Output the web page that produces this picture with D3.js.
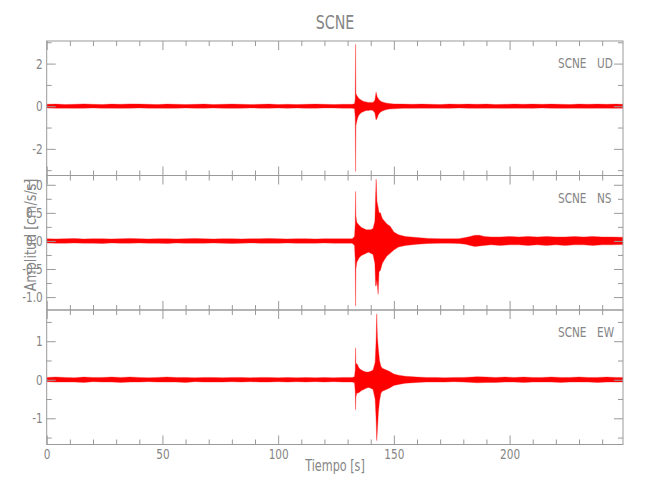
<!DOCTYPE html>
<html><head><meta charset="utf-8">
<script src="https://cdn.jsdelivr.net/npm/d3@7"></script>
<style>
body{margin:0;background:#fff}
svg{display:block}
text{font-family:"DejaVu Sans","Liberation Sans",sans-serif;fill:#858585}
</style>
</head><body>
<svg id="c" width="650" height="500"></svg>
<script>
// ---------- DATA ----------
const stationName = "SCNE";
const channels = ["UD", "NS", "EW"];
const timeDomain = [0, 249];
const timeMajorTicks = [0, 50, 100, 150, 200];
const timeMinorTicks = [10,20,30,40,60,70,80,90,110,120,130,140,160,170,180,190,210,220,230,240];

const udDomain = [-3.25, 3.06];
const udMajorTicks = [-2, 0, 2];
const udMinorTicks = [-3, -1, 1, 3];
const nsDomain = [-1.23, 1.165];
const nsMajorTicks = [-1.0, -0.5, 0.0, 0.5, 1.0];
const nsMinorTicks = [-0.75, -0.25, 0.25, 0.75];
const ewDomain = [-1.68, 1.81];
const ewMajorTicks = [-1, 0, 1];
const ewMinorTicks = [-1.5, -0.5, 0.5, 1.5];

// envelope of each trace: [time s, max, min]
const udEnvelope = [
[0,.09,-.08],[4,.10,-.09],[8,.08,-.09],[12,.09,-.10],[16,.11,-.09],[20,.09,-.08],[24,.08,-.09],[28,.10,-.09],[32,.09,-.10],[36,.11,-.09],[40,.10,-.08],[44,.09,-.09],[48,.08,-.09],[52,.10,-.10],[56,.09,-.09],[60,.08,-.08],[64,.09,-.09],[68,.10,-.09],[72,.08,-.08],[76,.09,-.09],[80,.10,-.10],[84,.09,-.09],[88,.08,-.08],[92,.09,-.09],[96,.10,-.09],[100,.08,-.08],[104,.09,-.09],[108,.08,-.08],[112,.09,-.09],[116,.10,-.09],[120,.09,-.08],[124,.08,-.08],[128,.09,-.09],[132,.09,-.09],
[133.0,.12,-.12],[133.3,.35,-.5],[133.45,2.9,-3.06],[133.6,.6,-.9],[134.0,.5,-.7],[134.5,.42,-.5],[135,.35,-.4],[136,.28,-.3],[137,.22,-.25],[138,.2,-.2],[139,.18,-.2],[140,.18,-.18],[141,.18,-.2],[141.8,.28,-.32],[142.3,.66,-.65],[142.8,.45,-.55],[143.3,.35,-.4],[144,.26,-.3],[145,.2,-.22],[146.5,.15,-.16],[148,.13,-.13],[150,.11,-.12],[154,.1,-.1],
[158,.09,-.10],[162,.10,-.09],[166,.09,-.09],[170,.08,-.09],[174,.10,-.10],[178,.09,-.08],[182,.10,-.09],[186,.09,-.10],[190,.10,-.09],[194,.08,-.09],[198,.09,-.10],[202,.10,-.09],[206,.09,-.09],[210,.10,-.10],[214,.09,-.08],[218,.10,-.09],[222,.09,-.10],[226,.08,-.09],[230,.10,-.09],[234,.09,-.10],[238,.10,-.09],[242,.09,-.09],[246,.10,-.10],[249,.09,-.09]
];
const nsEnvelope = [
[0,.04,-.035],[4,.035,-.04],[8,.04,-.04],[12,.045,-.035],[16,.035,-.04],[20,.04,-.04],[24,.04,-.045],[28,.035,-.035],[32,.04,-.04],[36,.045,-.04],[40,.04,-.035],[44,.035,-.04],[48,.04,-.04],[52,.04,-.045],[56,.035,-.035],[60,.04,-.04],[64,.045,-.04],[68,.04,-.04],[72,.035,-.035],[76,.04,-.04],[80,.04,-.045],[84,.035,-.04],[88,.04,-.035],[92,.04,-.04],[96,.045,-.04],[100,.04,-.04],[104,.035,-.035],[108,.04,-.04],[112,.04,-.04],[116,.035,-.04],[120,.04,-.035],[124,.04,-.04],[128,.04,-.04],[132,.04,-.04],
[133.0,.08,-.08],[133.3,.3,-.35],[133.45,.88,-1.16],[133.6,.45,-.5],[134,.33,-.38],[135,.28,-.3],[136,.24,-.26],[137,.22,-.24],[138,.2,-.22],[139,.2,-.2],[140,.2,-.22],[141,.22,-.24],[141.8,.35,-.4],[142.1,.8,-.8],[142.35,1.1,-.8],[142.7,.7,-.7],[143.2,.6,-.95],[143.6,.5,-.55],[144.2,.5,-.52],[145,.4,-.4],[146,.35,-.33],[147,.3,-.27],[148.4,.26,-.22],[150,.16,-.16],[152,.11,-.11],[155,.08,-.08],[160,.06,-.06],[165,.045,-.045],
[170,.04,-.04],[174,.04,-.04],[178,.04,-.045],[181,.06,-.06],[183,.08,-.08],[185,.1,-.1],[187,.1,-.09],[189,.08,-.08],[192,.07,-.07],[196,.07,-.08],[200,.08,-.07],[204,.07,-.07],[208,.08,-.08],[212,.07,-.07],[216,.08,-.08],[220,.07,-.07],[224,.07,-.08],[228,.08,-.07],[232,.07,-.07],[236,.08,-.08],[240,.07,-.07],[244,.07,-.07],[249,.065,-.065]
];
const ewEnvelope = [
[0,.06,-.05],[4,.07,-.06],[8,.06,-.06],[12,.05,-.06],[16,.07,-.07],[20,.06,-.05],[24,.06,-.06],[28,.07,-.06],[32,.06,-.07],[36,.07,-.06],[40,.06,-.06],[44,.05,-.05],[48,.06,-.06],[52,.07,-.06],[56,.06,-.06],[60,.06,-.07],[64,.05,-.05],[68,.06,-.06],[72,.06,-.06],[76,.05,-.06],[80,.06,-.05],[84,.06,-.06],[88,.05,-.05],[92,.06,-.06],[96,.06,-.06],[100,.05,-.05],[104,.06,-.06],[108,.05,-.05],[112,.06,-.06],[116,.05,-.05],[120,.06,-.06],[124,.05,-.05],[128,.06,-.06],[132,.06,-.06],
[133.0,.08,-.08],[133.3,.25,-.3],[133.45,.83,-.78],[133.6,.4,-.45],[134,.42,-.35],[135,.3,-.33],[136,.25,-.28],[137,.22,-.25],[138,.2,-.22],[139,.2,-.2],[140,.22,-.22],[141,.25,-.25],[141.9,.45,-.5],[142.3,1.0,-1.0],[142.6,1.71,-1.58],[142.9,1.1,-1.3],[143.3,.8,-.85],[143.8,.5,-.55],[144.4,.35,-.35],[145,.3,-.3],[146,.27,-.27],[148,.22,-.22],[150,.15,-.15],[152,.12,-.12],[155,.09,-.09],[160,.07,-.07],
[164,.06,-.06],[168,.06,-.06],[172,.05,-.06],[176,.06,-.05],[180,.06,-.06],[184,.07,-.07],[186,.08,-.08],[190,.07,-.07],[194,.06,-.07],[198,.07,-.06],[202,.06,-.06],[206,.07,-.07],[210,.06,-.06],[214,.06,-.06],[218,.07,-.06],[222,.06,-.07],[226,.06,-.06],[230,.07,-.06],[234,.06,-.06],[238,.06,-.07],[242,.07,-.06],[246,.06,-.06],[249,.06,-.06]
];

// ---------- LAYOUT ----------
const svg = d3.select("#c");
const left = 46.7, right = 623;
const panelTops = [41, 175.5, 310];
const panelH = 134.5;
const axisColor = "#9a9a9a";
const narrow = 0.75;
const panels = [
  {ch: channels[0], env: udEnvelope, domain: udDomain, major: udMajorTicks, minor: udMinorTicks, fmt: d => String(d)},
  {ch: channels[1], env: nsEnvelope, domain: nsDomain, major: nsMajorTicks, minor: nsMinorTicks, fmt: d => d.toFixed(1)},
  {ch: channels[2], env: ewEnvelope, domain: ewDomain, major: ewMajorTicks, minor: ewMinorTicks, fmt: d => String(d)}
];

const x = d3.scaleLinear().domain(timeDomain).range([left, right]);

function styleAxis(g) {
  g.select(".domain").remove();
  g.selectAll("line").attr("stroke", axisColor).attr("stroke-width", 1);
  g.selectAll("text").attr("fill", "#858585").style("font-size", "14px")
    .each(function () {
      const t = d3.select(this);
      const tx = +t.attr("x") || 0, ty = +t.attr("y") || 0;
      t.attr("x", null).attr("y", null)
       .attr("transform", `translate(${tx},${ty}) scale(${narrow},1)`);
    });
}

function narrowText(xp, yp, size, str, anchor) {
  svg.append("text")
    .attr("transform", `translate(${xp},${yp}) scale(${narrow},1)`)
    .attr("text-anchor", anchor || "start")
    .style("font-size", size + "px").text(str);
}

panels.forEach((p, i) => {
  const top = panelTops[i], bottom = top + panelH;
  const y = d3.scaleLinear().domain(p.domain).range([bottom, top]);

  const clipId = "clip" + i;
  svg.append("clipPath").attr("id", clipId)
    .append("rect").attr("x", left).attr("y", top).attr("width", right - left).attr("height", panelH);

  const area = d3.area()
    .x(d => x(d[0])).y0(d => y(d[2])).y1(d => y(d[1]));
  svg.append("path").datum(p.env)
    .attr("clip-path", `url(#${clipId})`)
    .attr("d", area)
    .attr("fill", "#ff0000")
    .attr("stroke", "#ff2020")
    .attr("stroke-opacity", 0.7)
    .attr("stroke-width", 0.5)
    .attr("stroke-linejoin", "round");

  // frame
  svg.append("rect").attr("x", left).attr("y", top).attr("width", right - left).attr("height", panelH)
    .attr("fill", "none").attr("stroke", axisColor).attr("stroke-width", 1);

  // left axis
  svg.append("g").attr("transform", `translate(${left},0)`)
    .call(d3.axisLeft(y).tickValues(p.major).tickSize(-9).tickPadding(4).tickFormat(p.fmt)).call(styleAxis);
  svg.append("g").attr("transform", `translate(${left},0)`)
    .call(d3.axisLeft(y).tickValues(p.minor).tickSize(-5).tickFormat("")).call(styleAxis);
  // right axis
  svg.append("g").attr("transform", `translate(${right},0)`)
    .call(d3.axisRight(y).tickValues(p.major).tickSize(-9).tickFormat("")).call(styleAxis);
  svg.append("g").attr("transform", `translate(${right},0)`)
    .call(d3.axisRight(y).tickValues(p.minor).tickSize(-5).tickFormat("")).call(styleAxis);
  // top axis
  svg.append("g").attr("transform", `translate(0,${top})`)
    .call(d3.axisTop(x).tickValues(timeMajorTicks).tickSize(-9).tickFormat("")).call(styleAxis);
  svg.append("g").attr("transform", `translate(0,${top})`)
    .call(d3.axisTop(x).tickValues(timeMinorTicks).tickSize(-5).tickFormat("")).call(styleAxis);
  // bottom axis
  svg.append("g").attr("transform", `translate(0,${bottom})`)
    .call(d3.axisBottom(x).tickValues(timeMajorTicks).tickSize(-9).tickPadding(5)
      .tickFormat(i === panels.length - 1 ? d => String(d) : "")).call(styleAxis);
  svg.append("g").attr("transform", `translate(0,${bottom})`)
    .call(d3.axisBottom(x).tickValues(timeMinorTicks).tickSize(-5).tickFormat("")).call(styleAxis);

  // channel label
  narrowText(558, top + 27, 14, stationName);
  narrowText(597, top + 27, 14, p.ch);
});

// title and axis titles
narrowText(335, 29, 19, stationName, "middle");
narrowText(335, 471, 15, "Tiempo [s]", "middle");
svg.append("text").attr("transform", "translate(36,235) rotate(-90) scale(0.85,1)").attr("text-anchor", "middle")
  .style("font-size", "15px").text("Amplitud [cm/s/s]");
</script>
</body></html>
